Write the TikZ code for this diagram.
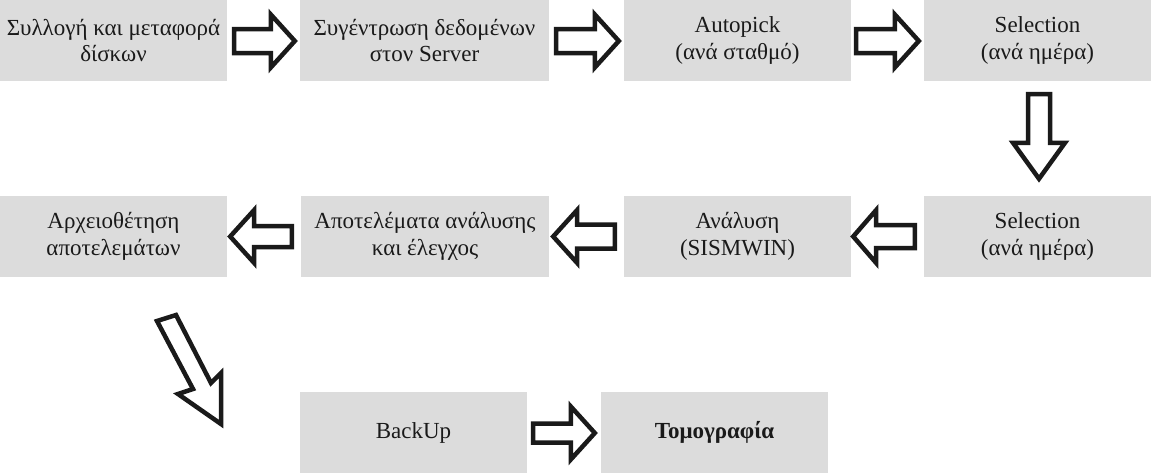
\documentclass[tikz,border=0pt]{standalone}
\usepackage{fontspec}
\setmainfont{Liberation Serif}
\usetikzlibrary{calc}
\definecolor{boxgray}{RGB}{220,220,220}
\definecolor{ink}{RGB}{26,26,26}
\tikzset{
  box/.style={fill=boxgray, draw=none, inner sep=0pt, minimum height=81pt,
    align=center, text=ink, font=\fontsize{23}{26.5}\selectfont},
  blockarrow/.style={draw=ink, fill=white, line width=4.5pt, line join=miter}
}
% #1 tail, #2 tip, #3 shaft half width, #4 head half width, #5 head length
\newcommand{\barrow}[5]{%
  \coordinate (bah) at ($(#2)!#5pt!(#1)$);
  \draw[blockarrow] ($(#1)!#3pt!90:(#2)$) -- ($(bah)!#3pt!90:(#2)$)
    -- ($(bah)!#4pt!90:(#2)$) -- (#2) -- ($(bah)!#4pt!-90:(#2)$)
    -- ($(bah)!#3pt!-90:(#2)$) -- ($(#1)!#3pt!-90:(#2)$) -- cycle;
}
\begin{document}
\begin{tikzpicture}[x=1pt,y=-1pt]
\useasboundingbox (0,0) rectangle (1151,474);
% row 1
\node[box, minimum width=227pt] (b1) at (113.5,40.5) {Συλλογή και μεταφορά\\δίσκων};
\node[box, minimum width=249pt] (b2) at (424.5,40.5) {Συγέντρωση δεδομένων\\στον Server};
\node[box, minimum width=227pt] (b3) at (737.5,40.5) {Autopick\\(ανά σταθμό)};
\node[box, minimum width=227pt] (b4) at (1037.5,40.5) {Selection\\(ανά ημέρα)};
% row 2
\node[box, minimum width=227pt] (c1) at (113.5,236.5) {Αρχειοθέτηση\\αποτελεμάτων};
\node[box, minimum width=248pt] (c2) at (425,236.5) {Αποτελέματα ανάλυσης\\και έλεγχος};
\node[box, minimum width=227pt] (c3) at (737.5,236.5) {Ανάλυση\\(SISMWIN)};
\node[box, minimum width=227pt] (c4) at (1037.5,236.5) {Selection\\(ανά ημέρα)};
% row 3
\node[box, minimum width=227pt] (d1) at (413.5,432.5) {BackUp};
\node[box, minimum width=227pt] (d2) at (714.5,432.5) {\textbf{Τομογραφία}};
% arrow end points
\coordinate (a1t) at ($(b1.east)+(7,0.5)$);  \coordinate (a1h) at ($(b2.west)+(-5,0.5)$);
\coordinate (a2t) at ($(b2.east)+(7,0.5)$);  \coordinate (a2h) at ($(b3.west)+(-5,0.5)$);
\coordinate (a3t) at ($(b3.east)+(5,0.5)$);  \coordinate (a3h) at ($(b4.west)+(-5,0.5)$);
\coordinate (a4t) at ($(b4.south)+(1.5,13)$); \coordinate (a4h) at ($(c4.north)+(1.5,-17)$);
\coordinate (a5t) at ($(c4.west)+(-9,0)$);   \coordinate (a5h) at ($(c3.east)+(2,0)$);
\coordinate (a6t) at ($(c3.west)+(-9,0)$);   \coordinate (a6h) at ($(c2.east)+(4,0)$);
\coordinate (a7t) at ($(c2.west)+(-9,0)$);   \coordinate (a7h) at ($(c1.east)+(3,0)$);
\coordinate (a8t) at ($(d1.east)+(6,0.5)$);  \coordinate (a8h) at ($(d2.west)+(-6,0.5)$);
\barrow{a1t}{a1h}{12}{26.5}{24}
\barrow{a2t}{a2h}{12}{26.5}{24}
\barrow{a3t}{a3h}{12}{26.5}{24}
\barrow{a4t}{a4h}{11}{26}{36}
\barrow{a5t}{a5h}{11.5}{26.5}{23}
\barrow{a6t}{a6h}{12}{26.5}{24}
\barrow{a7t}{a7h}{10.5}{26.5}{24}
\barrow{a8t}{a8h}{9.5}{26.5}{24}
% diagonal arrow (skewed shape)
\draw[blockarrow] (157,321) -- (176,315) -- (211,383) -- (221,373) -- (221,424)
  -- (178,394) -- (193,389) -- cycle;
\end{tikzpicture}
\end{document}
